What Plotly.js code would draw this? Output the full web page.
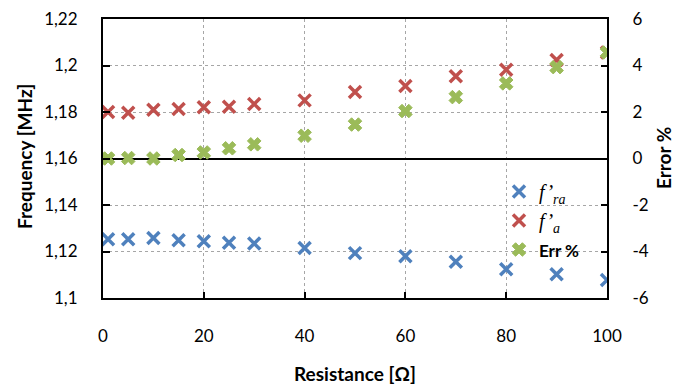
<!DOCTYPE html>
<html>
<head>
<meta charset="utf-8">
<script src="https://cdn.plot.ly/plotly-3.0.1.min.js"></script>
<style>html,body{margin:0;padding:0;background:#fff;}#chart{width:700px;height:385px;}</style>
</head>
<body>
<div id="chart"></div>
<script>
// Data
const resistance = [1, 5, 10, 15, 20, 25, 30, 40, 50, 60, 70, 80, 90, 100];
const fRa = [1.1253, 1.1253, 1.1258, 1.1248, 1.1244, 1.1238, 1.1234, 1.1215, 1.1193, 1.1180, 1.1156, 1.1124, 1.1102, 1.1077];
const fA = [1.1800, 1.1797, 1.1810, 1.1813, 1.1820, 1.1823, 1.1834, 1.1850, 1.1886, 1.1912, 1.1954, 1.1982, 1.2024, 1.2056];
const errPct = [0.0, 0.02, 0.0, 0.15, 0.26, 0.44, 0.61, 0.98, 1.46, 2.04, 2.64, 3.23, 3.93, 4.56];

const xTickVals = [0, 20, 40, 60, 80, 100];
const xTickText = ['0', '20', '40', '60', '80', '100'];
const yTickVals = [1.10, 1.12, 1.14, 1.16, 1.18, 1.20, 1.22];
const yTickText = ['1,1', '1,12', '1,14', '1,16', '1,18', '1,2', '1,22'];
const y2TickVals = [-6, -4, -2, 0, 2, 4, 6];
const y2TickText = ['-6', '-4', '-2', '0', '2', '4', '6'];

const seriesNames = [
  '<i>f’</i><i><sub>ra</sub></i>',
  '<i>f’</i><i><sub>a</sub></i>',
  '<span style="font-family:Lato;font-weight:bold;font-size:17px">Err %</span>'
];

const tickFont = {family: 'Lato, sans-serif', size: 17, color: '#000'};
const titleFont = {family: 'Lato, sans-serif', size: 19, color: '#000', weight: 'bold'};

const traces = [
  {x: resistance, y: fRa, name: seriesNames[0], type: 'scatter', mode: 'markers', yaxis: 'y',
   marker: {symbol: 'x-thin-open', size: 12, color: '#4F81BD', line: {width: 3.5, color: '#4F81BD'}}},
  {x: resistance, y: fA, name: seriesNames[1], type: 'scatter', mode: 'markers', yaxis: 'y',
   marker: {symbol: 'x-thin-open', size: 12, color: '#C0504D', line: {width: 3.5, color: '#C0504D'}}},
  {x: resistance, y: errPct, name: seriesNames[2], type: 'scatter', mode: 'markers', yaxis: 'y2',
   marker: {symbol: 'x', size: 12, color: '#9BBB59', line: {width: 1, color: '#9BBB59'}}}
];

const px = (v) => (v - 103) / 504;   // pixel -> paper x
const py = (v) => (298 - v) / 279;   // pixel -> paper y

const layout = {
  width: 700, height: 385,
  margin: {l: 103, r: 93, t: 19, b: 87, pad: 0},
  paper_bgcolor: '#fff', plot_bgcolor: '#fff',
  showlegend: true,
  legend: {x: px(499), y: py(172), xanchor: 'left', yanchor: 'top', bgcolor: 'rgba(255,255,255,0)',
           font: {family: 'Liberation Serif, serif', size: 20, color: '#000'},
           tracegroupgap: 0, itemwidth: 30},
  shapes: [
    {type: 'rect', xref: 'paper', yref: 'paper', x0: px(490), x1: px(592), y0: py(264), y1: py(178),
     fillcolor: '#fff', line: {width: 0}, layer: 'between'}
  ],
  xaxis: {range: [0, 100], tickvals: xTickVals, ticktext: xTickText,
          showline: true, linecolor: '#000', linewidth: 2, mirror: true,
          ticks: 'inside', ticklen: 6, tickcolor: '#000', tickwidth: 2,
          showgrid: true, gridcolor: '#a6a6a6', griddash: 'dot', gridwidth: 1,
          zeroline: false, tickfont: tickFont, ticklabelstandoff: 22, fixedrange: true},
  yaxis: {range: [1.1, 1.22], tickvals: yTickVals, ticktext: yTickText,
          showline: true, linecolor: '#000', linewidth: 2,
          ticks: 'inside', ticklen: 7, tickcolor: '#000', tickwidth: 2,
          showgrid: true, gridcolor: '#a6a6a6', griddash: 'dot', gridwidth: 1,
          zeroline: false, tickfont: tickFont, ticklabelstandoff: 20},
  yaxis2: {range: [-6, 6], tickvals: y2TickVals, ticktext: y2TickText, overlaying: 'y', side: 'right',
           showline: true, linecolor: '#000', linewidth: 2,
           ticks: 'inside', ticklen: 6, tickcolor: '#000', tickwidth: 2,
           showgrid: false, zeroline: true, zerolinecolor: '#000', zerolinewidth: 2,
           tickfont: tickFont, ticklabelstandoff: 20},
  annotations: [
    {text: 'Resistance [Ω]', xref: 'paper', yref: 'paper', x: 0.5, y: py(373),
     xanchor: 'center', yanchor: 'middle', showarrow: false, font: titleFont},
    {text: 'Frequency [MHz]', xref: 'paper', yref: 'paper', x: px(24), y: py(157),
     xanchor: 'center', yanchor: 'middle', showarrow: false, textangle: -90, font: titleFont},
    {text: 'Error %', xref: 'paper', yref: 'paper', x: px(663), y: py(158),
     xanchor: 'center', yanchor: 'middle', showarrow: false, textangle: -90, font: titleFont}
  ]
};

Plotly.newPlot('chart', traces, layout, {displayModeBar: false, staticPlot: true});
</script>
</body>
</html>
